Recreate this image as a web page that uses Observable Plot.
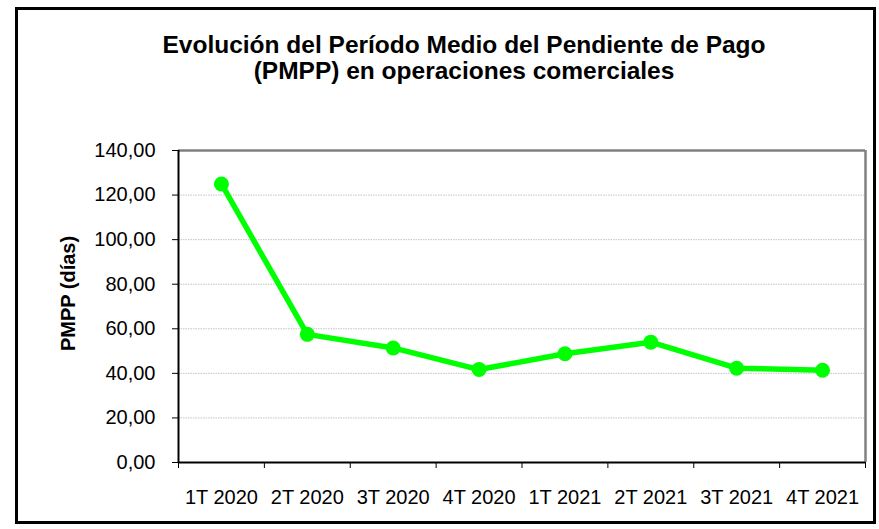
<!DOCTYPE html>
<html>
<head>
<meta charset="utf-8">
<script src="https://cdn.jsdelivr.net/npm/d3@7"></script>
<script src="https://cdn.jsdelivr.net/npm/@observablehq/plot@0.6"></script>
<style>
  html, body { margin: 0; padding: 0; background: #fff; }
  #wrap { position: relative; width: 879px; height: 529px; overflow: hidden; font-family: "Liberation Sans", Arial, sans-serif; }
  #frame { position: absolute; left: 15px; top: 7px; width: 855px; height: 511px; border: 3px solid #000; box-sizing: content-box; pointer-events: none; }
  #title { position: absolute; left: 0; width: 928px; top: 32px; text-align: center; font-weight: bold; font-size: 24.5px; line-height: 26px; color: #000; }
  #chart { position: absolute; left: 0; top: 0; }
</style>
</head>
<body>
<div id="wrap">
  <div id="chart"></div>
  <div id="title">Evolución del Período Medio del Pendiente de Pago<br>(PMPP) en operaciones comerciales</div>
  <div id="frame"></div>
</div>
<script>
const categories = ["1T 2020", "2T 2020", "3T 2020", "4T 2020", "1T 2021", "2T 2021", "3T 2021", "4T 2021"];
const pmpp = [125.0, 57.5, 51.4, 41.7, 48.8, 54.0, 42.3, 41.4];
const yTicks = [0, 20, 40, 60, 80, 100, 120, 140];
const yLabel = "PMPP (días)";

const data = categories.map((c, i) => ({cat: c, pos: i + 0.5, value: pmpp[i]}));
const centers = data.map(d => d.pos);
const bounds = d3.range(categories.length + 1);
const fmt = v => v.toFixed(2).replace(".", ",");

const chart = Plot.plot({
  width: 879,
  height: 529,
  marginLeft: 178,
  marginRight: 14,
  marginTop: 150,
  marginBottom: 67,
  style: {fontFamily: "Liberation Sans, Arial, sans-serif", fontSize: "20px", color: "#000", background: "transparent"},
  x: {type: "linear", domain: [0, categories.length]},
  y: {domain: [0, 140]},
  marks: [
    Plot.gridY(yTicks.slice(1, -1), {stroke: "#c4c4c4", strokeOpacity: 1, strokeDasharray: "1.5,1", strokeWidth: 1}),
    Plot.ruleY([140], {stroke: "#808080", strokeWidth: 2.5}),
    Plot.ruleX([categories.length], {stroke: "#808080", strokeWidth: 2.5}),
    Plot.ruleX([0], {stroke: "#000", strokeWidth: 2}),
    Plot.ruleY([0], {stroke: "#000", strokeWidth: 2}),
    Plot.axisY({ticks: yTicks, tickFormat: fmt, tickSize: 6, tickPadding: 17, fontSize: 20, label: null}),
    Plot.text([yLabel], {text: d => d, frameAnchor: "left", textAnchor: "middle", rotate: -90, dx: -110, dy: -13, fontSize: 20, fontWeight: "bold", fill: "#000"}),
    Plot.axisX({ticks: bounds, tickFormat: () => "", tickSize: 6, label: null}),
    Plot.axisX({ticks: centers, tickFormat: (d) => categories[Math.round(d - 0.5)], tickSize: 0, tickPadding: 27, fontSize: 20, label: null}),
    Plot.line(data, {x: "pos", y: "value", stroke: "#00ff00", strokeWidth: 5.5, curve: "linear"}),
    Plot.dot(data, {x: "pos", y: "value", r: 7.5, fill: "#00ff00", stroke: "none"})
  ]
});
document.getElementById("chart").appendChild(chart);
</script>
</body>
</html>
